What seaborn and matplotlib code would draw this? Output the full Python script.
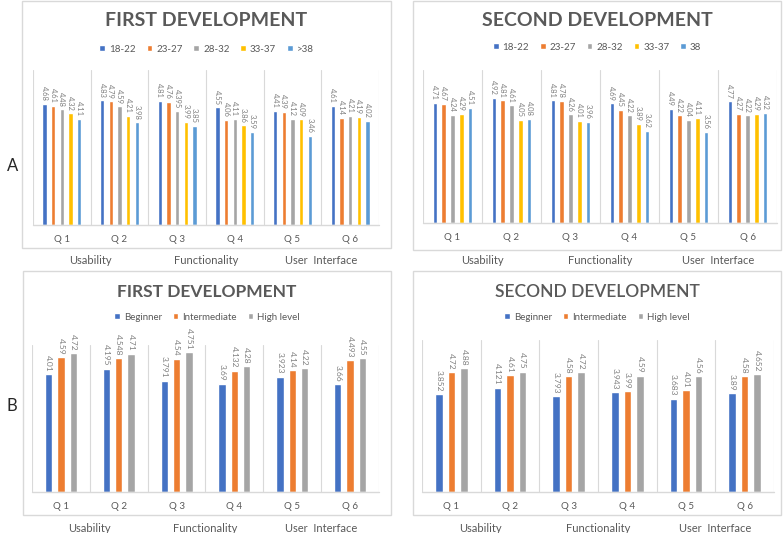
import matplotlib
matplotlib.use("Agg")
import matplotlib.pyplot as plt
import matplotlib.transforms as mtransforms
from matplotlib.patches import Patch, Rectangle
import pandas as pd
import seaborn as sns

# data
questions = ["Q 1", "Q 2", "Q 3", "Q 4", "Q 5", "Q 6"]
sections = ["Usability", "Functionality", "User  Interface"]

age_groups_first = ["18-22", "23-27", "28-32", "33-37", ">38"]
age_groups_second = ["18-22", "23-27", "28-32", "33-37", "38"]
levels = ["Beginner", "Intermediate", "High level"]

first_by_age = {
    "18-22": [4.68, 4.83, 4.81, 4.55, 4.41, 4.61],
    "23-27": [4.61, 4.79, 4.76, 4.06, 4.39, 4.14],
    "28-32": [4.48, 4.59, 4.395, 4.11, 4.12, 4.21],
    "33-37": [4.32, 4.21, 3.99, 3.86, 4.09, 4.19],
    ">38":   [4.11, 3.98, 3.85, 3.59, 3.46, 4.02],
}
second_by_age = {
    "18-22": [4.71, 4.92, 4.81, 4.69, 4.49, 4.77],
    "23-27": [4.67, 4.81, 4.78, 4.45, 4.22, 4.27],
    "28-32": [4.24, 4.61, 4.26, 4.22, 4.04, 4.22],
    "33-37": [4.29, 4.05, 4.01, 3.89, 4.11, 4.29],
    "38":    [4.51, 4.08, 3.96, 3.62, 3.56, 4.32],
}
first_by_level = {
    "Beginner":     [4.01, 4.195, 3.791, 3.69, 3.923, 3.66],
    "Intermediate": [4.59, 4.548, 4.54, 4.132, 4.14, 4.493],
    "High level":   [4.72, 4.71, 4.751, 4.28, 4.22, 4.55],
}
second_by_level = {
    "Beginner":     [3.852, 4.121, 3.793, 3.943, 3.683, 3.89],
    "Intermediate": [4.72, 4.61, 4.58, 3.99, 4.01, 4.58],
    "High level":   [4.88, 4.75, 4.72, 4.59, 4.56, 4.652],
}

age_colors = ["#4472C4", "#ED7D31", "#A5A5A5", "#FFC000", "#5B9BD5"]
level_colors = ["#4472C4", "#ED7D31", "#A5A5A5"]

W, H = 783, 533
GRID = "#D9D9D9"
TXT = "#595959"

sns.set_theme(style="white")
plt.rcParams["font.family"] = ["Lato", "DejaVu Sans"]

fig = plt.figure(figsize=(W / 100, H / 100), dpi=100)


def px_rect(l, t, r, b):
    return [l / W, 1 - b / H, (r - l) / W, (b - t) / H]


def panel(values, groups, colors, box, plot, ymax, title, tweight, tsize,
          title_y, legend_y, section_y, width, gap, lsize):
    # outer frame of the panel
    bl, bt, br, bb = box
    fig.patches.append(Rectangle((bl / W, 1 - bb / H), (br - bl) / W, (bb - bt) / H,
                                 transform=fig.transFigure, fill=False,
                                 edgecolor=GRID, linewidth=1))
    ax = fig.add_axes(px_rect(*plot))
    df = pd.DataFrame([(q, g, values[g][i]) for g in groups for i, q in enumerate(questions)],
                      columns=["question", "group", "score"])
    sns.barplot(data=df, x="question", y="score", hue="group", order=questions,
                hue_order=groups, palette=colors, width=width, gap=gap,
                saturation=1, legend=False, ax=ax)
    for cont, g in zip(ax.containers, groups):
        ax.bar_label(cont, labels=[f"{v:g}" for v in values[g]], rotation=270,
                     padding=2, fontsize=lsize, color="#7F7F7F")
    ax.set_ylim(0, ymax)
    ax.set_xlim(-0.5, len(questions) - 0.5)
    for x in range(len(questions) + 1):
        ax.axvline(x - 0.5, color=GRID, linewidth=0.8, zorder=0)
    for s in ax.spines.values():
        s.set_visible(False)
    ax.axhline(0, color=GRID, linewidth=1, clip_on=False)
    ax.set_yticks([])
    ax.set_xlabel("")
    ax.set_ylabel("")
    ax.tick_params(axis="x", length=0, pad=7, labelsize=7, labelcolor=TXT)

    cx = (bl + br) / 2 / W
    fig.text(cx, 1 - title_y / H, title, ha="center", va="center",
             fontsize=tsize, fontweight=tweight, color=TXT)
    handles = [Patch(facecolor=c, label=g) for g, c in zip(groups, colors)]
    fig.legend(handles=handles, loc="center", bbox_to_anchor=(cx, 1 - legend_y / H),
               ncol=len(groups), frameon=False, fontsize=7, handlelength=0.6,
               handleheight=0.6, handletextpad=0.4, columnspacing=1.1,
               labelcolor=TXT)
    trans = mtransforms.blended_transform_factory(ax.transData, fig.transFigure)
    for i, name in enumerate(sections):
        ax.text(2 * i + 0.5, 1 - section_y / H, name, transform=trans,
                ha="center", va="center", fontsize=8, color=TXT)
    return ax


panel(first_by_age, age_groups_first, age_colors, (22, 1, 391, 248),
      (33, 70, 379, 225), 6, "FIRST DEVELOPMENT", "bold", 14, 21, 49, 260, 0.75, 0.5, 5.5)
panel(second_by_age, age_groups_second, age_colors, (413, 1, 781, 250),
      (423, 70, 777, 223), 6, "SECOND DEVELOPMENT", "bold", 14, 21, 47, 260, 0.75, 0.5, 5.5)
panel(first_by_level, levels, level_colors, (23, 271, 391, 515),
      (32, 345, 379, 492), 5, "FIRST DEVELOPMENT", "bold", 12.5, 292, 317, 528, 0.64, 0.4, 6)
panel(second_by_level, levels, level_colors, (413, 271, 781, 515),
      (422, 340, 774, 492), 6, "SECOND DEVELOPMENT", "semibold", 12.5, 292, 317, 528, 0.64, 0.4, 6)

fig.text(7 / W, 1 - 166 / H, "A", ha="left", va="center", fontsize=12, color="#262626")
fig.text(7 / W, 1 - 406 / H, "B", ha="left", va="center", fontsize=12, color="#262626")

fig.savefig("out.png", dpi=100, facecolor="white")
